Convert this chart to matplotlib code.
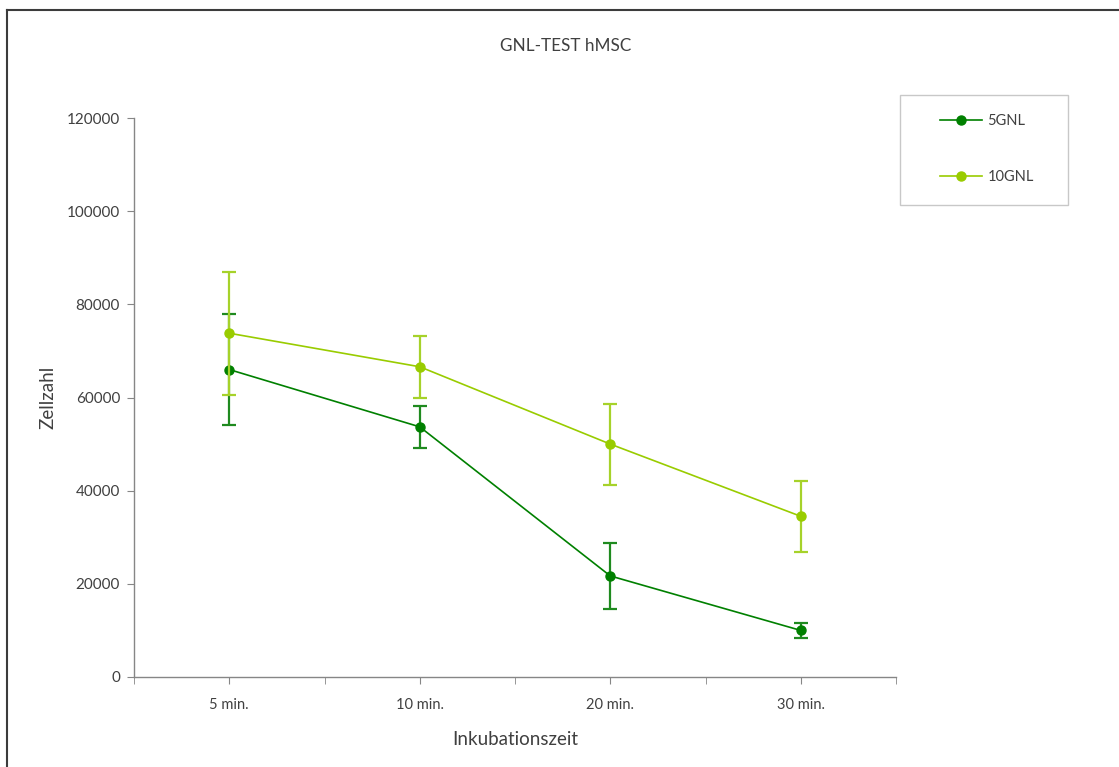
import matplotlib
matplotlib.use("Agg")
import matplotlib.pyplot as plt
from matplotlib.lines import Line2D
from matplotlib.patches import Rectangle

plt.rcParams['font.family'] = ['Lato', 'DejaVu Sans']

categories = ["5 min.", "10 min.", "20 min.", "30 min."]
gnl5_mean = [66000, 53700, 21700, 10000]
gnl5_err = [12000, 4500, 7000, 1600]
gnl10_mean = [73800, 66600, 50000, 34500]
gnl10_err = [13200, 6600, 8700, 7600]

c5 = "#008000"
c10 = "#99CC00"
text_c = "#404040"
axis_c = "#868686"

W, H = 1119, 767
fig = plt.figure(figsize=(W / 100, H / 100), dpi=100)
ax = fig.add_axes([134 / W, 1 - 677 / H, (896 - 134) / W, (677 - 118) / H])

x = list(range(len(categories)))
ax.errorbar(x, gnl5_mean, yerr=gnl5_err, color=c5, lw=1.2, marker="o", ms=6.5,
            elinewidth=1.6, capsize=5, capthick=1.6, ecolor="#1f8a1f", label="5GNL",
            zorder=3)
ax.errorbar(x, gnl10_mean, yerr=gnl10_err, color=c10, lw=1.2, marker="o", ms=6.5,
            elinewidth=1.6, capsize=5, capthick=1.6, ecolor="#a6d22a", label="10GNL",
            zorder=4)

ax.set_xlim(-0.5, len(categories) - 0.5)
ax.set_ylim(0, 120000)
ax.set_yticks(range(0, 120001, 20000))
ax.set_xticks(x)
ax.set_xticklabels(categories)
ax.set_xticks([i - 0.5 for i in range(len(categories) + 1)], minor=True)

for s in ["top", "right"]:
    ax.spines[s].set_visible(False)
for s in ["left", "bottom"]:
    ax.spines[s].set_color(axis_c)
    ax.spines[s].set_linewidth(1.0)
ax.tick_params(axis="y", which="major", length=5, color=axis_c, labelsize=11,
               labelcolor=text_c, pad=5)
ax.tick_params(axis="x", which="both", length=5, color=axis_c, labelsize=10.5,
               labelcolor=text_c, pad=10)

ax.set_xlabel("Inkubationszeit", fontsize=13.5, color=text_c, labelpad=14)
ax.set_ylabel("Zellzahl", fontsize=13.5, color=text_c, labelpad=7.5)
fig.text(566 / W, 1 - 46 / H, "GNL-TEST hMSC", ha="center", va="center",
         fontsize=12.3, color=text_c)

# legend box
fig.patches.append(Rectangle((900 / W, 1 - 205 / H), 168 / W, 110 / H,
                             transform=fig.transFigure, facecolor="white",
                             edgecolor="#c8c8c8", lw=1.0))
handles = [Line2D([], [], color=c5, lw=1.2, marker="o", ms=6.5),
           Line2D([], [], color=c10, lw=1.2, marker="o", ms=6.5)]
fig.legend(handles, ["5GNL", "10GNL"], loc="upper left",
           bbox_to_anchor=(940 / W, 1 - 114 / H), frameon=False, fontsize=10.5,
           labelcolor=text_c, handlelength=2.9, handletextpad=0.35,
           labelspacing=2.9, borderpad=0, borderaxespad=0)

# outer frame
fig.add_artist(Line2D([7 / W, 1], [1 - 10 / H, 1 - 10 / H], transform=fig.transFigure,
                      color="#3c3c3c", lw=1.5))
fig.add_artist(Line2D([7 / W, 7 / W], [0, 1 - 10 / H], transform=fig.transFigure,
                      color="#3c3c3c", lw=1.5))

fig.savefig("out.png", dpi=100, facecolor="white")
